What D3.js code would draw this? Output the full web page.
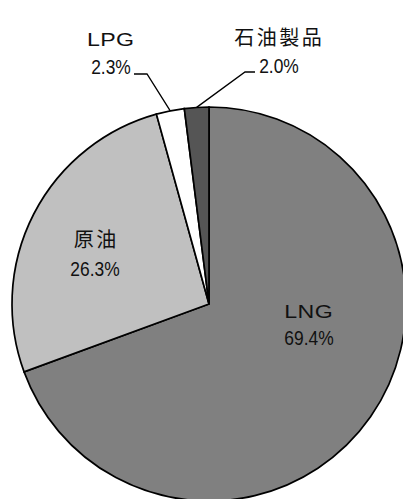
<!DOCTYPE html>
<html><head><meta charset="utf-8">
<script src="https://cdn.jsdelivr.net/npm/d3@7"></script>
<style>body{margin:0;background:#fff}svg{display:block}</style>
</head><body>
<script>
const categories = ["LNG", "原油", "LPG", "石油製品"];
const values = [69.4, 26.3, 2.3, 2.0];
const colors = ["#808080", "#c0c0c0", "#ffffff", "#555555"];

const W = 403, H = 499;
const cx = 209, cy = 304, R = 197;
const svg = d3.select("body").append("svg").attr("width", W).attr("height", H);
const g = svg.append("g").attr("transform", `translate(${cx},${cy})`);

const pie = d3.pie().sort(null).value(d => d.v);
const data = pie(categories.map((c, i) => ({c, v: values[i], col: colors[i]})));
const arc = d3.arc().innerRadius(0).outerRadius(R);
const edge = d3.arc().innerRadius(R).outerRadius(R);

g.selectAll("path").data(data).enter().append("path")
  .attr("d", arc).attr("fill", d => d.data.col)
  .attr("stroke", "#000").attr("stroke-width", 1.7).attr("stroke-linejoin", "miter");

const latin = "'Liberation Sans', Arial, sans-serif";
const cjk = "'Noto Sans CJK JP', sans-serif";
const fmt = v => v.toFixed(1) + "%";

// label layout (name pos, value pos) relative to svg
const layout = {
  "LNG": {nx: 308.5, ny: 318, vx: 309, vy: 345},
  "原油": {nx: 95, ny: 247, vx: 95, vy: 276},
  "LPG": {nx: 110.5, ny: 46, vx: 111, vy: 74, knee: [147, 74], end: [134, 74]},
  "石油製品": {nx: 278, ny: 45, vx: 279, vy: 73, knee: [245, 72], end: [255, 72]}
};

function label(x, y, txt, fam, size, sx, ls) {
  svg.append("text")
    .attr("transform", `translate(${x + ls * sx / 2},${y}) scale(${sx},1)`)
    .attr("text-anchor", "middle")
    .attr("font-family", fam).attr("font-size", size)
    .attr("letter-spacing", ls)
    .attr("fill", "#111")
    .text(txt);
}

data.forEach(d => {
  const L = layout[d.data.c];
  const isCJK = /[^\x00-\x7f]/.test(d.data.c);
  if (isCJK) label(L.nx, L.ny, d.data.c, cjk, 20, 1, 2.5);
  else label(L.nx, L.ny, d.data.c, latin, 19, 1.22, 0.3);
  label(L.vx, L.vy, fmt(d.data.v), latin, 20, 0.87, 0);
  if (L.knee) {
    const p = edge.centroid(d);
    svg.append("polyline")
      .attr("points", [[p[0] + cx, p[1] + cy], L.knee, L.end].map(q => q.join(",")).join(" "))
      .attr("fill", "none").attr("stroke", "#000").attr("stroke-width", 1.3);
  }
});
</script>
</body></html>
